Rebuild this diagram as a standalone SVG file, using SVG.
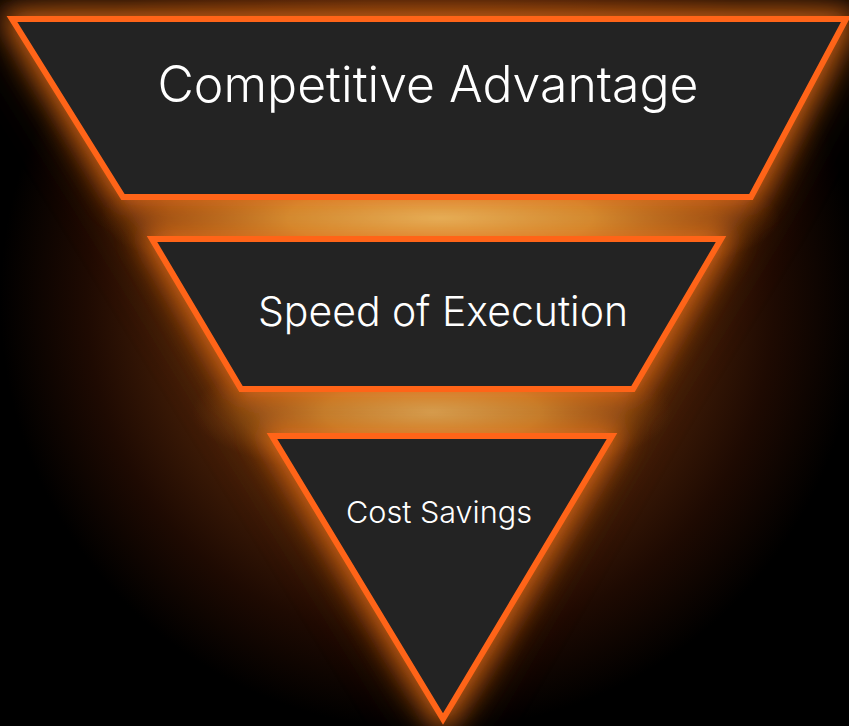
<svg xmlns="http://www.w3.org/2000/svg" width="849" height="726" viewBox="0 0 849 726">
  <defs>
    <style>
      .tier { fill: #232323; stroke: #FF6418; stroke-width: 6; stroke-linejoin: miter; }
      .halo { fill: #E0701E; stroke: #FF7A1E; stroke-width: 14; }
      .label { fill: #FFFFFF; font-family: Inter, "Open Sans", "Liberation Sans", sans-serif; font-weight: 300; text-anchor: middle; }
    </style>
    <radialGradient id="bgGlow" cx="430" cy="300" r="430" gradientUnits="userSpaceOnUse">
      <stop offset="0" stop-color="#8A4A14"/>
      <stop offset="0.45" stop-color="#5A2A0A"/>
      <stop offset="0.8" stop-color="#1E0A02"/>
      <stop offset="1" stop-color="#000000"/>
    </radialGradient>
    <radialGradient id="gold" cx="0.5" cy="0.5" r="0.5">
      <stop offset="0" stop-color="#DDBE6A"/>
      <stop offset="0.45" stop-color="#C48E36"/>
      <stop offset="0.8" stop-color="#9A5A18" stop-opacity="0.6"/>
      <stop offset="1" stop-color="#7A3A0A" stop-opacity="0"/>
    </radialGradient>
    <filter id="soft" x="-30%" y="-30%" width="160%" height="160%">
      <feGaussianBlur stdDeviation="14"/>
    </filter>
    <filter id="wide" x="-40%" y="-40%" width="180%" height="180%">
      <feGaussianBlur stdDeviation="30"/>
    </filter>
  </defs>

  <!-- backdrop -->
  <rect width="849" height="726" fill="#000000"/>
  <rect width="849" height="726" fill="url(#bgGlow)"/>

  <!-- warm light behind the funnel -->
  <g filter="url(#wide)" opacity="0.75">
    <polygon points="10,18 848,18 752,198 634,390 443,722 240,390 122,198" fill="#8A3E0E"/>
  </g>
  <ellipse cx="440" cy="218" rx="340" ry="75" fill="url(#gold)"/>
  <ellipse cx="432" cy="412" rx="240" ry="70" fill="url(#gold)" opacity="0.8"/>
  <g filter="url(#soft)" opacity="0.8">
    <polygon class="halo" points="10,18 848,18 752,198 122,198"/>
    <polygon class="halo" points="150,238 724,238 634,390 240,390"/>
    <polygon class="halo" points="270,435 615,435 443,722"/>
  </g>

  <!-- funnel tiers -->
  <g id="tier-competitive-advantage">
    <polygon class="tier" points="12,19 846,19 751,197 123,197"/>
    <text class="label" x="428" y="102" font-size="50" textLength="541" lengthAdjust="spacingAndGlyphs">Competitive Advantage</text>
  </g>
  <g id="tier-speed-of-execution">
    <polygon class="tier" points="152,239 721,239 633,389 241,389"/>
    <text class="label" x="443" y="326" font-size="41" textLength="370" lengthAdjust="spacingAndGlyphs">Speed of Execution</text>
  </g>
  <g id="tier-cost-savings">
    <polygon class="tier" points="272,436 612,436 443,719"/>
    <text class="label" x="439" y="523" font-size="30" textLength="186" lengthAdjust="spacingAndGlyphs">Cost Savings</text>
  </g>
</svg>
